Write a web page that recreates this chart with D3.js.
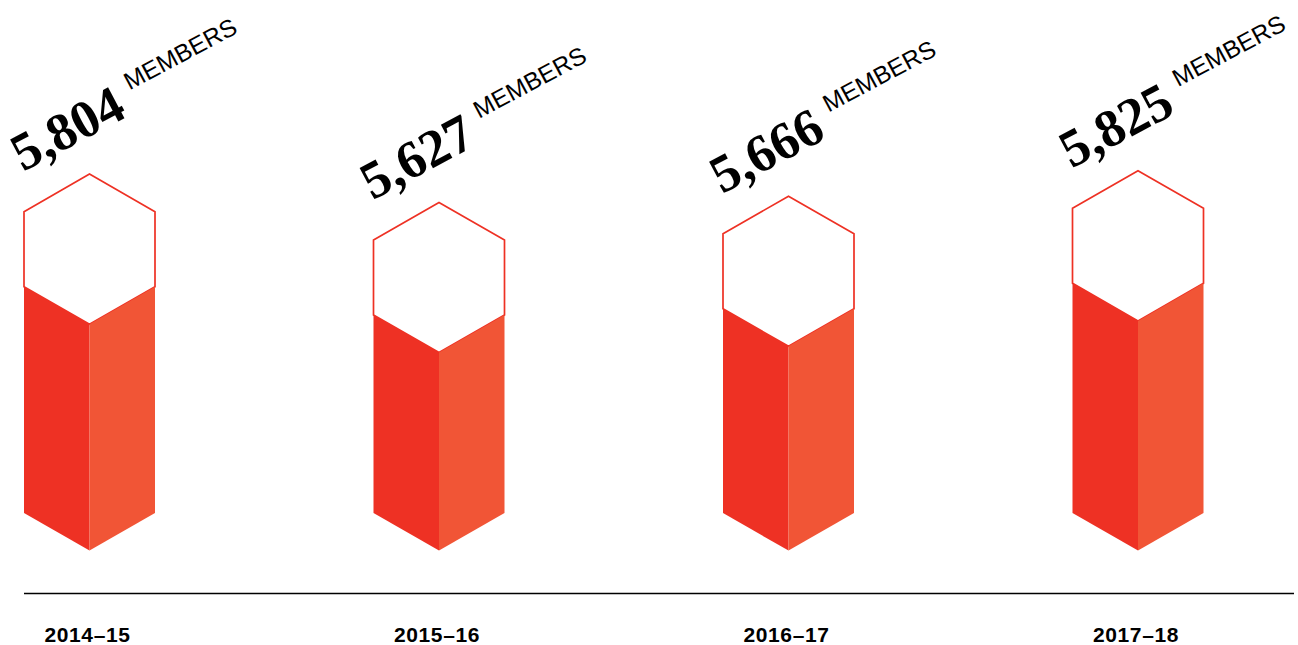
<!DOCTYPE html>
<html>
<head>
<meta charset="utf-8">
<script src="https://cdn.jsdelivr.net/npm/d3@7"></script>
<style>
  html, body { margin: 0; padding: 0; background: #ffffff; }
  svg { display: block; }
</style>
</head>
<body>
<svg id="chart" width="1298" height="645"></svg>
<script>
// ---- data ----
const categories = ["2014–15", "2015–16", "2016–17", "2017–18"];
const members = [5804, 5627, 5666, 5825];
const unitLabel = "MEMBERS";

// ---- layout ----
const W = 1298, H = 645;
const svg = d3.select("#chart");

const x = d3.scalePoint().domain(categories).range([89.5, 1138]);
const y = d3.scaleLinear().domain([4390, 5825]).range([513, 283.3]);

const hw = 65.5;      // half width of prism
const dz = 37.6;      // isometric drop
const side = 75;      // hexagon vertical side
const baseY = y(4390);

const leftColor = "#EE3124";
const rightColor = "#F15536";
const strokeColor = "#EE3124";

const data = categories.map((c, i) => ({ cat: c, value: members[i] }));

const g = svg.append("g");

const bars = g.selectAll("g.bar").data(data).join("g").attr("class", "bar");

// empty (white) hexagon on top
bars.append("path")
  .attr("d", d => {
    const cx = x(d.cat), t = y(d.value);
    return d3.line()([
      [cx, t - side - dz], [cx + hw, t - side], [cx + hw, t],
      [cx, t + dz], [cx - hw, t], [cx - hw, t - side]
    ]) + "Z";
  })
  .attr("fill", "#fff")
  .attr("stroke", strokeColor)
  .attr("stroke-width", 1.7)
  .attr("stroke-linejoin", "miter");

// left face
bars.append("path")
  .attr("d", d => {
    const cx = x(d.cat), t = y(d.value);
    return d3.line()([[cx - hw, t], [cx, t + dz], [cx, baseY + dz], [cx - hw, baseY]]) + "Z";
  })
  .attr("fill", leftColor);

// right face
bars.append("path")
  .attr("d", d => {
    const cx = x(d.cat), t = y(d.value);
    return d3.line()([[cx + hw, t], [cx, t + dz], [cx, baseY + dz], [cx + hw, baseY]]) + "Z";
  })
  .attr("fill", rightColor);

// value labels (rotated)
const fmt = d3.format(",");
const lbl = bars.append("text")
  .attr("transform", d => {
    const cx = x(d.cat), t = y(d.value);
    return `translate(${cx - hw - 1},${t - side - dz - 2}) rotate(-28)`;
  })
  .attr("fill", "#000");
lbl.append("tspan")
  .text(d => fmt(d.value))
  .attr("font-family", "'Liberation Serif', 'Times New Roman', serif")
  .attr("font-weight", "bold")
  .attr("font-size", 53);
lbl.append("tspan")
  .text(unitLabel)
  .attr("dx", 13)
  .attr("dy", -22)
  .attr("font-family", "'Liberation Sans', Arial, sans-serif")
  .attr("font-size", 24.5);

// baseline
g.append("line")
  .attr("x1", 24).attr("x2", 1294)
  .attr("y1", 593.5).attr("y2", 593.5)
  .attr("stroke", "#000")
  .attr("stroke-width", 1.3);

// category axis labels
g.selectAll("text.cat").data(categories).join("text")
  .attr("class", "cat")
  .attr("x", d => x(d) - 2)
  .attr("y", 642)
  .attr("text-anchor", "middle")
  .attr("font-family", "'Liberation Sans', Arial, sans-serif")
  .attr("font-weight", "bold")
  .attr("font-size", 21)
  .attr("letter-spacing", 0.6)
  .text(d => d);
</script>
</body>
</html>
